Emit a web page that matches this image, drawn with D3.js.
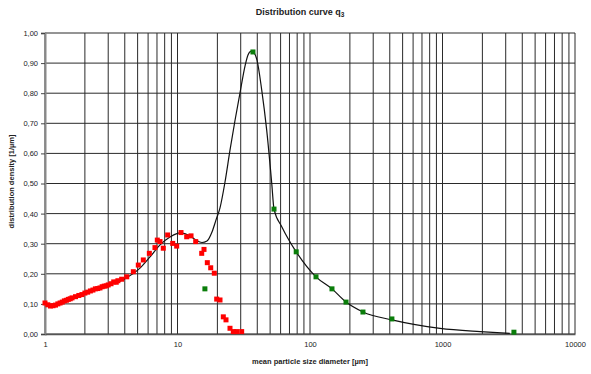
<!DOCTYPE html>
<html>
<head>
<meta charset="utf-8">
<script src="https://cdn.jsdelivr.net/npm/d3@7"></script>
<style>
  body { margin: 0; background: #fff; }
  text { font-family: "Liberation Sans", Arial, sans-serif; fill: #222; }
</style>
</head>
<body>
<div id="chart"></div>
<script>
// measured points (red) - particle size [µm] and density
const redSize = [1.0, 1.05, 1.1, 1.15, 1.2, 1.25, 1.3, 1.35, 1.4, 1.45, 1.5, 1.55, 1.6, 1.7, 1.8, 1.9,
  2.0, 2.1, 2.2, 2.3, 2.4, 2.5, 2.6, 2.7, 2.8, 2.9, 3.0, 3.15, 3.3, 3.45, 3.55,
  3.79, 4.14, 4.64, 5.06, 5.52, 6.13, 6.76, 7.04, 7.38, 7.81, 8.43, 9.2, 9.86, 10.63, 11.73,
  12.65, 13.72, 15.23, 15.85, 16.79, 17.81, 18.96, 19.76, 20.93, 22.17, 23.23, 24.9, 26.37, 27.98, 30.5];
const redDensity = [0.103, 0.097, 0.093, 0.094, 0.096, 0.100, 0.103, 0.106, 0.110, 0.112, 0.115, 0.117, 0.120, 0.124, 0.128, 0.131,
  0.136, 0.139, 0.143, 0.146, 0.150, 0.151, 0.153, 0.157, 0.159, 0.160, 0.163, 0.167, 0.173, 0.172, 0.177,
  0.182, 0.190, 0.207, 0.229, 0.246, 0.268, 0.287, 0.312, 0.307, 0.285, 0.329, 0.301, 0.292, 0.337, 0.323,
  0.326, 0.307, 0.268, 0.281, 0.237, 0.220, 0.202, 0.116, 0.113, 0.057, 0.047, 0.019, 0.008, 0.008, 0.008];

// sieve points (green)
const greenSize = [16.1, 37.1, 53.5, 78.7, 111, 146.5, 187, 251, 415, 3460];
const greenDensity = [0.150, 0.937, 0.415, 0.273, 0.190, 0.150, 0.106, 0.073, 0.050, 0.006];

// fitted curve (black)
const curveSize = [1.0, 1.09, 1.3, 2.0, 3.09, 4.01, 5.21, 6.2, 7.38, 8.78, 10.44, 12.43, 13.79, 15.31,
  16.7, 18.21, 19.53, 20.93, 22.83, 24.9, 27.2, 29.63, 32.32, 34.04, 35.86, 37.79, 39.81,
  43.2, 47.1, 51.4, 53.5, 61.5, 78.7, 111, 146.5, 187, 251, 415, 958, 1923, 3220];
const curveDensity = [0.100, 0.093, 0.101, 0.136, 0.163, 0.184, 0.219, 0.256, 0.296, 0.322, 0.336, 0.326, 0.312, 0.304,
  0.309, 0.339, 0.379, 0.419, 0.505, 0.611, 0.711, 0.801, 0.890, 0.927, 0.939, 0.934, 0.910,
  0.811, 0.678, 0.502, 0.415, 0.355, 0.273, 0.190, 0.150, 0.106, 0.073, 0.047, 0.019, 0.008, 0.002];

const xTickValues = [1, 10, 100, 1000, 10000];
const yTickValues = [0, 0.1, 0.2, 0.3, 0.4, 0.5, 0.6, 0.7, 0.8, 0.9, 1.0];

const width = 591, height = 374;
const margin = {top: 33, right: 16, bottom: 40, left: 45};
const plotW = width - margin.left - margin.right;
const plotH = height - margin.top - margin.bottom;

const svg = d3.select('#chart').append('svg')
  .attr('width', width)
  .attr('height', height);

const x = d3.scaleLog().domain([1, 10000]).range([0, plotW]);
const y = d3.scaleLinear().domain([0, 1]).range([plotH, 0]);

const g = svg.append('g')
  .attr('transform', 'translate(' + margin.left + ',' + margin.top + ')');

// vertical grid: 1..9 per decade
const minorX = [];
for (let dec = 1; dec < 10000; dec *= 10) {
  for (let k = 1; k < 10; k++) minorX.push(dec * k);
}
minorX.push(10000);

g.append('g').selectAll('line')
  .data(minorX)
  .enter().append('line')
    .attr('x1', d => x(d)).attr('x2', d => x(d))
    .attr('y1', 0).attr('y2', plotH)
    .attr('stroke', '#2a2a2a')
    .attr('stroke-width', 1);

g.append('g').selectAll('line')
  .data(yTickValues)
  .enter().append('line')
    .attr('x1', 0).attr('x2', plotW)
    .attr('y1', d => y(d)).attr('y2', d => y(d))
    .attr('stroke', '#2a2a2a')
    .attr('stroke-width', 1);

// axes
const fmt = d3.format('.2f');
g.append('g')
  .attr('class', 'axis axis--y')
  .call(d3.axisLeft(y).tickValues(yTickValues).tickSize(4).tickPadding(3)
    .tickFormat(d => fmt(d).replace('.', ',')))
  .call(a => a.select('.domain').attr('stroke', '#888').attr('stroke-width', 2))
  .call(a => a.selectAll('.tick line').attr('stroke', '#444'))
  .call(a => a.selectAll('text').attr('font-size', 7.5).attr('fill', '#222'));

g.append('g')
  .attr('class', 'axis axis--x')
  .attr('transform', 'translate(0,' + plotH + ')')
  .call(d3.axisBottom(x).tickValues(xTickValues).tickSize(0).tickPadding(8)
    .tickFormat(d3.format('d')))
  .call(a => a.select('.domain').attr('stroke', '#555').attr('stroke-width', 1.5))
  .call(a => a.selectAll('text').attr('font-size', 7.5).attr('fill', '#222'));

// curve
const line = d3.line()
  .x((d, i) => x(curveSize[i]))
  .y(d => y(d))
  .curve(d3.curveMonotoneX);

g.append('path')
  .datum(curveDensity)
  .attr('d', line)
  .attr('fill', 'none')
  .attr('stroke', '#111')
  .attr('stroke-width', 1.2);

// red measured points
g.append('g').selectAll('rect')
  .data(redDensity)
  .enter().append('rect')
    .attr('x', (d, i) => x(redSize[i]) - 2.5)
    .attr('y', d => y(d) - 2.5)
    .attr('width', 5).attr('height', 5)
    .attr('fill', '#ff0000');

// green points
g.append('g').selectAll('rect')
  .data(greenDensity)
  .enter().append('rect')
    .attr('x', (d, i) => x(greenSize[i]) - 2.5)
    .attr('y', d => y(d) - 2.5)
    .attr('width', 5).attr('height', 5)
    .attr('fill', '#0a7d0a');

// titles
const title = svg.append('text')
  .attr('x', 300).attr('y', 15)
  .attr('text-anchor', 'middle')
  .attr('font-size', 9).attr('font-weight', 'bold');
title.append('tspan').text('Distribution curve q');
title.append('tspan').attr('font-size', 6.5).attr('dy', 2).text('3');

svg.append('text')
  .attr('transform', 'translate(14,' + (margin.top + plotH / 2 - 2) + ') rotate(-90)')
  .attr('text-anchor', 'middle')
  .attr('font-size', 7.5).attr('font-weight', 'bold')
  .text('distribution density [1/µm]');

svg.append('text')
  .attr('x', 310).attr('y', 364)
  .attr('text-anchor', 'middle')
  .attr('font-size', 7.5).attr('font-weight', 'bold')
  .text('mean particle size diameter [µm]');
</script>
</body>
</html>
